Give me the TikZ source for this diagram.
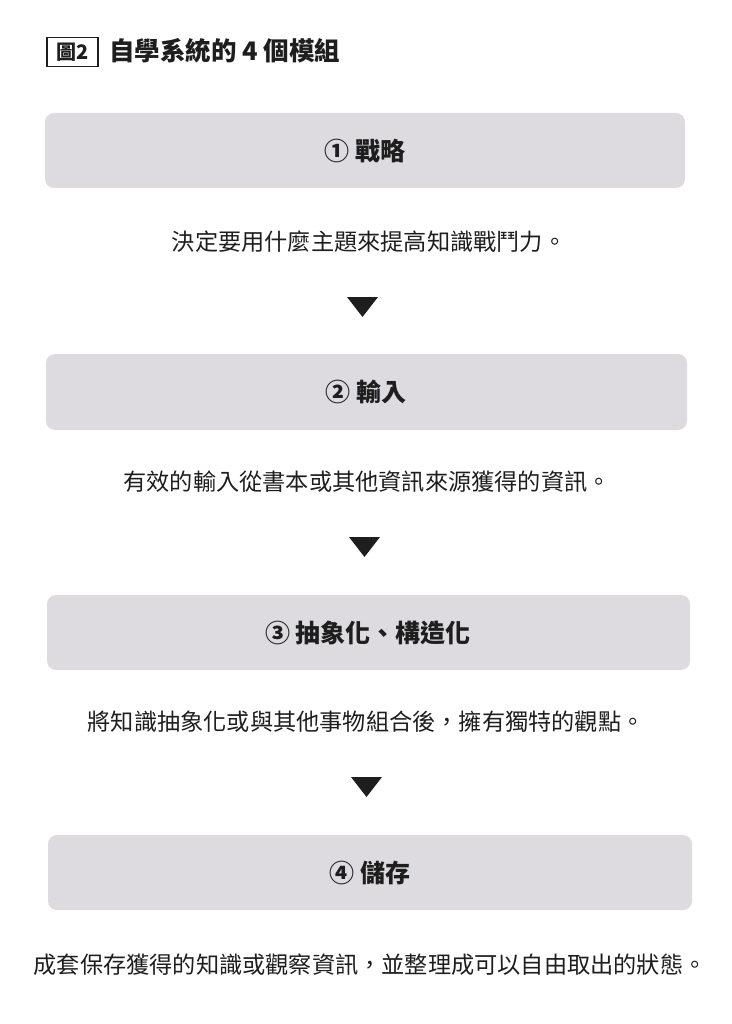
\documentclass[tikz,border=0pt]{standalone}
\usepackage{fontspec}
\setmainfont{Noto Sans CJK TC}
\definecolor{boxgray}{RGB}{221,219,223}
\definecolor{ink}{RGB}{30,30,30}
\begin{document}
\begin{tikzpicture}[x=1pt,y=-1pt,
  stagebox/.style={fill=boxgray,rounded corners=9pt,draw=none},
  stagelabel/.style={font=\fontsize{25}{28}\selectfont\bfseries,text=ink},
  desc/.style={font=\fontsize{23.2}{27}\selectfont,text=ink},
  tri/.style={fill=ink,draw=none}]
\useasboundingbox (0,0) rectangle (731,1024);
% title
\node[draw=ink,line width=1.2pt,minimum width=51pt,minimum height=29pt,inner sep=0pt,
  font=\fontsize{20}{22}\selectfont\bfseries,text=ink] (fig) at (72.5,52) {圖2};
\node[anchor=west,font=\fontsize{25.5}{28}\selectfont\bfseries,text=ink,inner sep=0pt] (title) at (109,51) {自學系統的 4 個模組};
% boxes
\fill[stagebox] (45,113) rectangle (685,188);
\node[stagelabel] (s1) at (365,151) {① 戰略};
\node[desc] (d1) at (369,242) {決定要用什麼主題來提高知識戰鬥力。};
\fill[tri] (347,297) -- (378,297) -- (362.5,317) -- cycle;
\fill[stagebox] (46,354) rectangle (687,430);
\node[stagelabel] (s2) at (366,392) {② 輸入};
\node[desc] (d2) at (367,482) {有效的輸入從書本或其他資訊來源獲得的資訊。};
\fill[tri] (349,537) -- (380,537) -- (364.5,557) -- cycle;
\fill[stagebox] (47,595) rectangle (690,670);
\node[stagelabel] (s3) at (368,633) {③ 抽象化、構造化};
\node[desc] (d3) at (366,722) {將知識抽象化或與其他事物組合後，擁有獨特的觀點。};
\fill[tri] (351,777) -- (382,777) -- (366.5,797) -- cycle;
\fill[stagebox] (48,835) rectangle (692,910);
\node[stagelabel] (s4) at (370,873) {④ 儲存};
\node[desc] (d4) at (370,965) {成套保存獲得的知識或觀察資訊，並整理成可以自由取出的狀態。};
\end{tikzpicture}
\end{document}
